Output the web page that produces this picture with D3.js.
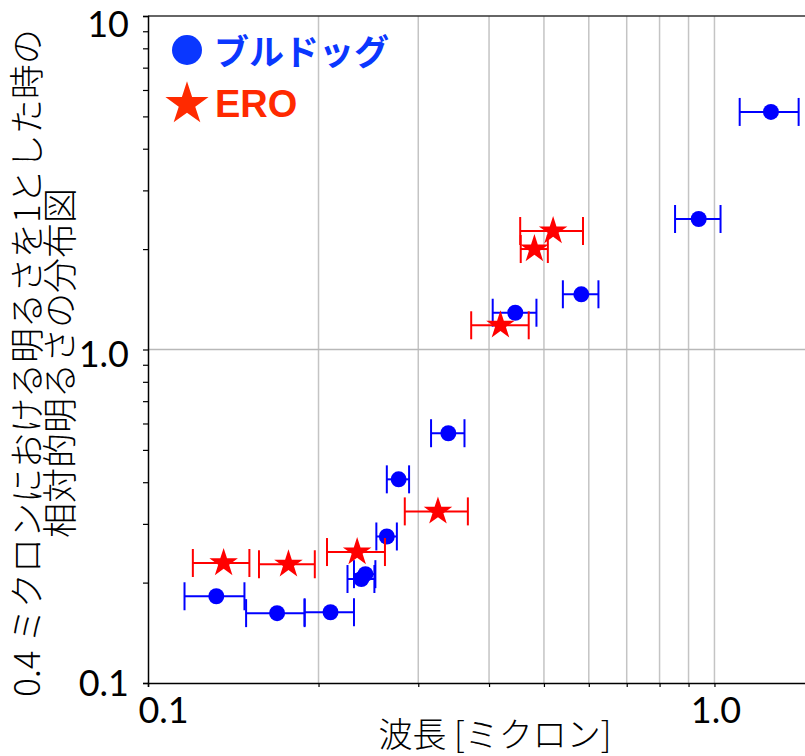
<!DOCTYPE html>
<html>
<head>
<meta charset="utf-8">
<script src="https://cdn.jsdelivr.net/npm/d3@7"></script>
<style>
  html, body { margin: 0; padding: 0; background: #fff; }
  svg { display: block; overflow: hidden; }
</style>
</head>
<body>
<div id="chart"></div>
<script>
// bulldog galaxies: wavelength [micron], error bar ends, relative brightness
var bulldogX  = [0.132, 0.169, 0.210, 0.238, 0.242, 0.264, 0.277, 0.339, 0.445, 0.582, 0.938, 1.258];
var bulldogLo = [0.116, 0.149, 0.189, 0.225, 0.231, 0.253, 0.264, 0.316, 0.406, 0.540, 0.852, 1.108];
var bulldogHi = [0.148, 0.189, 0.231, 0.251, 0.252, 0.275, 0.289, 0.362, 0.485, 0.624, 1.025, 1.408];
var bulldogY  = [0.182, 0.162, 0.163, 0.205, 0.212, 0.275, 0.408, 0.561, 1.289, 1.464, 2.462, 5.156];

// extremely red objects
var eroX  = [0.136, 0.177, 0.234, 0.325, 0.419, 0.481, 0.519];
var eroLo = [0.120, 0.157, 0.207, 0.284, 0.372, 0.455, 0.454];
var eroHi = [0.151, 0.197, 0.262, 0.367, 0.470, 0.508, 0.586];
var eroY  = [0.229, 0.227, 0.247, 0.327, 1.182, 2.001, 2.266];

var xTicks = [0.1, 0.2, 0.3, 0.4, 0.5, 0.6, 0.7, 0.8, 0.9, 1.0];
var xTickLabels = {"0.1": "0.1", "1": "1.0"};
var yTicks = [0.1, 0.2, 0.3, 0.4, 0.5, 0.6, 0.7, 0.8, 0.9, 1, 2, 3, 4, 5, 6, 7, 8, 9, 10];
var yTickLabels = {"0.1": "0.1", "1": "1.0", "10": "10"};
var xGrid = [0.2, 0.3, 0.4, 0.5, 0.6, 0.7, 0.8, 0.9, 1.0];
var yGrid = [1];

var legendLabels = ["ブルドッグ", "ERO"];
var xTitle = "波長 [ミクロン]";
var yTitle = ["0.4 ミクロンにおける明るさを1とした時の", "相対的明るさの分布図"];

var width = 805, height = 756;
var numFont = "Lato, 'DejaVu Sans', sans-serif";
var jpFont = "'Noto Sans CJK JP', 'Noto Sans', sans-serif";

var svg = d3.select("#chart").append("svg")
  .attr("width", width)
  .attr("height", height);

// axes run past the right edge of the picture, as in the original
var x = d3.scaleLog().domain([0.1, 1.7]).range([148, 845]);
var y = d3.scaleLog().domain([0.1, 10]).range([683, 16]);

//grid lines
svg.append("g").selectAll("line.gx").data(xGrid).enter().append("line")
  .attr("x1", function(d) { return x(d); })
  .attr("x2", function(d) { return x(d); })
  .attr("y1", y(10))
  .attr("y2", y(0.1))
  .attr("stroke", "#c4c4c4")
  .attr("stroke-width", 1.5);

svg.append("g").selectAll("line.gy").data(yGrid).enter().append("line")
  .attr("x1", x(0.1))
  .attr("x2", width)
  .attr("y1", function(d) { return y(d); })
  .attr("y2", function(d) { return y(d); })
  .attr("stroke", "#b8b8b8")
  .attr("stroke-width", 1.5);

//top spine
svg.append("line")
  .attr("x1", x(0.1)).attr("x2", width)
  .attr("y1", y(10)).attr("y2", y(10))
  .attr("stroke", "#333").attr("stroke-width", 1.5);

//x axis
var xAxis = svg.append("g")
  .attr("transform", "translate(0," + y(0.1) + ")")
  .call(d3.axisBottom(x)
    .tickValues(xTicks)
    .tickSize(4)
    .tickPadding(10)
    .tickFormat(function(d) { return xTickLabels[String(+d.toFixed(1))] || ""; }));

xAxis.select(".domain").attr("stroke", "#000").attr("stroke-width", 1.5);
xAxis.selectAll(".tick line").attr("stroke", "#000").attr("stroke-width", 1.2);
xAxis.selectAll(".tick text")
  .attr("font-family", numFont)
  .attr("font-size", 36)
  .attr("fill", "#000")
  .attr("dx", function(d) { return d === 0.1 ? 15 : 1; });

//y axis
var yAxis = svg.append("g")
  .attr("transform", "translate(" + x(0.1) + ",0)")
  .call(d3.axisLeft(y)
    .tickValues(yTicks)
    .tickSize(5)
    .tickPadding(14)
    .tickFormat(function(d) { return yTickLabels[String(+d.toFixed(1))] || ""; }));

yAxis.select(".domain").attr("stroke", "#000").attr("stroke-width", 1.5);
yAxis.selectAll(".tick line").attr("stroke", "#000").attr("stroke-width", 1.2);
yAxis.selectAll(".tick text")
  .attr("font-family", numFont)
  .attr("font-size", 36)
  .attr("fill", "#000")
  .attr("dy", function(d) { return d === 10 ? "0.58em" : (d === 1 ? "0.47em" : "0.34em"); });

//axis titles
svg.append("text")
  .attr("x", 495)
  .attr("y", 747)
  .attr("text-anchor", "middle")
  .attr("font-family", jpFont)
  .attr("font-weight", 300)
  .attr("font-size", 34)
  .attr("fill", "#000")
  .text(xTitle);

svg.append("g").selectAll("text").data(yTitle).enter().append("text")
  .attr("transform", function(d, i) { return "translate(" + (40 + i * 33) + ",363) rotate(-90)"; })
  .attr("text-anchor", "middle")
  .attr("font-family", jpFont)
  .attr("font-weight", 300)
  .attr("font-size", 35)
  .attr("fill", "#000")
  .text(function(d) { return d; });

// draw one series with horizontal error bars
function drawSeries(xs, los, his, ys, color, marker) {
  var rows = xs.map(function(v, i) { return {x: v, lo: los[i], hi: his[i], y: ys[i]}; });
  var g = svg.append("g");

  g.selectAll("line.bar").data(rows).enter().append("line")
    .attr("x1", function(d) { return x(d.lo); })
    .attr("x2", function(d) { return x(d.hi); })
    .attr("y1", function(d) { return y(d.y); })
    .attr("y2", function(d) { return y(d.y); })
    .attr("stroke", color).attr("stroke-width", 2);

  //caps
  [ "lo", "hi" ].forEach(function(k) {
    g.selectAll("line.cap-" + k).data(rows).enter().append("line")
      .attr("x1", function(d) { return x(d[k]); })
      .attr("x2", function(d) { return x(d[k]); })
      .attr("y1", function(d) { return y(d.y) - 14; })
      .attr("y2", function(d) { return y(d.y) + 14; })
      .attr("stroke", color).attr("stroke-width", 2);
  });

  if (marker === "circle") {
    g.selectAll("circle").data(rows).enter().append("circle")
      .attr("cx", function(d) { return x(d.x); })
      .attr("cy", function(d) { return y(d.y); })
      .attr("r", 8)
      .attr("fill", color);
  } else {
    g.selectAll("path.star").data(rows).enter().append("path")
      .attr("transform", function(d) { return "translate(" + x(d.x) + "," + y(d.y) + ")"; })
      .attr("d", d3.symbol().type(d3.symbolStar).size(15 * 15 / 0.8908)())
      .attr("fill", color);
  }
}

drawSeries(bulldogX, bulldogLo, bulldogHi, bulldogY, "#0000ff", "circle");
drawSeries(eroX, eroLo, eroHi, eroY, "#ff0000", "star");

//legend
var legend = svg.append("g");
legend.append("circle")
  .attr("cx", 187).attr("cy", 50).attr("r", 15)
  .attr("fill", "#0a37ff");
legend.append("text")
  .attr("x", 214).attr("y", 65)
  .attr("font-family", jpFont)
  .attr("font-weight", 700)
  .attr("font-size", 35)
  .attr("fill", "#0a37ff")
  .text(legendLabels[0]);

legend.append("path")
  .attr("transform", "translate(187,104)")
  .attr("d", d3.symbol().type(d3.symbolStar).size(22.7 * 22.7 / 0.8908)())
  .attr("fill", "#ff2a00");
legend.append("text")
  .attr("x", 215).attr("y", 117)
  .attr("font-family", "'Liberation Sans', Arial, sans-serif")
  .attr("font-weight", 700)
  .attr("font-size", 38)
  .attr("fill", "#ff2a00")
  .text(legendLabels[1]);
</script>
</body>
</html>
